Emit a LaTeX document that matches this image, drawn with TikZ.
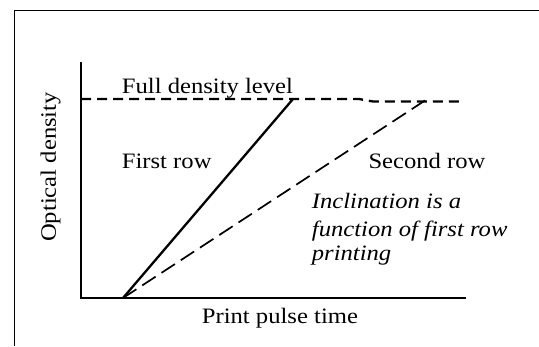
\documentclass[tikz,border=0pt]{standalone}
\usepackage{fontspec}
\setmainfont{Liberation Serif}
\usepackage{graphicx}
\newcommand{\widetext}[1]{\scalebox{1.12}[1]{#1}}

\begin{document}
\begin{tikzpicture}[x=1pt,y=-1pt,
  lbl/.style={inner sep=0pt,anchor=base west,font=\fontsize{22}{26}\selectfont}]
\useasboundingbox (0,0) rectangle (539,346);
\draw[line width=1.4pt] (14.3,346) -- (14.3,10.7) -- (539,10.7);
\coordinate (origin) at (81,298);
\coordinate (ytop) at (81,62);
\coordinate (xend) at (466,298);
\coordinate (start) at (123,298);
\coordinate (firstend) at (293,99);
\coordinate (secondend) at (425,100.5);
\coordinate (fullA) at (81,99);
\coordinate (fullB) at (359,99);
\coordinate (fullC) at (373,101.5);
\coordinate (fullD) at (464,101.5);
\draw[line width=2.7pt] (ytop) -- (origin) -- (xend);
\draw[line width=2.3pt] (start) -- (firstend);
\draw[line width=2.3pt,dash pattern=on 10pt off 6pt] (fullA) -- (fullB) -- (fullC) -- (fullD);
\draw[line width=1.7pt,dash pattern=on 16pt off 7pt] (start) -- (secondend);
\node[lbl] (full) at (121.7,93.3) {\widetext{Full density level}};
\node[lbl] (first) at (121.7,168.3) {\widetext{First row}};
\node[lbl] (second) at (368.3,168.3) {\widetext{Second row}};
\node[lbl] (inclA) at (311.7,208.3) {\widetext{\itshape Inclination is a}};
\node[lbl] (inclB) at (311.7,236.7) {\widetext{\itshape function of first row}};
\node[lbl] (inclC) at (311.7,260) {\widetext{\itshape printing}};
\node[lbl] (xlabel) at (201.7,323.3) {\widetext{Print pulse time}};
\node[lbl,anchor=base,rotate=90] (ylabel) at (56,167) {\widetext{Optical density}};
\end{tikzpicture}
\end{document}
